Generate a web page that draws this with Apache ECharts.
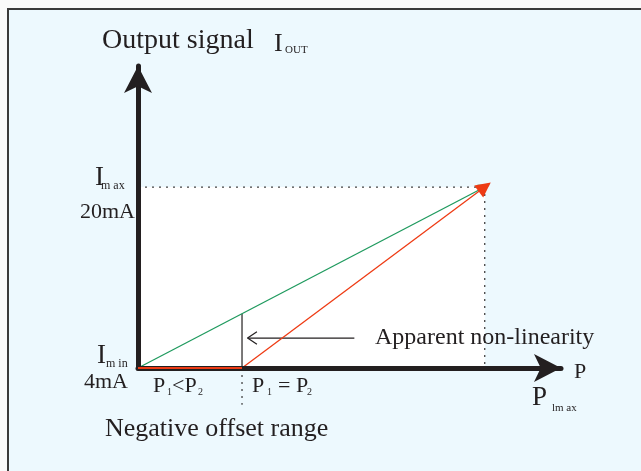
<!DOCTYPE html>
<html>
<head>
<meta charset="utf-8">
<script src="https://cdn.jsdelivr.net/npm/echarts@6/dist/echarts.min.js"></script>
<style>
    html, body { margin: 0; padding: 0; background: #fafafa; }
    #frame {
        position: absolute; left: 7px; top: 8px; width: 640px; height: 470px;
        background: #edf9fe; border-top: 2px solid #3a3a3a; border-left: 2px solid #3a3a3a;
    }
    #main { position: absolute; left: 0; top: 0; width: 641px; height: 471px; }
</style>
</head>
<body>
<div id="frame"></div>
<div id="main"></div>
<script>
    // pressure P (0 .. Pmax = 100), output signal in mA
    var pZero = 0, pOffset = 30, pMax = 100;
    var iMin = 4, iMax = 20;
    var greenLine = [[pZero, iMin], [pMax, iMax]];
    var redFlat = [[pZero, iMin], [pOffset, iMin]];
    var redSlope = [[pOffset, iMin], [pMax, iMax]];
    var offsetMark = [[pOffset, iMin], [pOffset, 8.8]];
    var offsetDotted = [[pOffset, iMin], [pOffset, 0.75]];
    var maxDottedH = [[pZero, iMax], [pMax, iMax]];
    var maxDottedV = [[pMax, iMax], [pMax, iMin]];
    var noteArrow = [[62.4, 6.65], [31.6, 6.65]];
    var noteHead = [[34.3, 7.2], [31.6, 6.65], [34.3, 6.1]];

    var ink = '#231f20';
    var serif = 'Liberation Serif, Times New Roman, serif';

    var myChart = echarts.init(document.getElementById('main'));

    function seg(data, color, width, type, z) {
        return {
            type: 'line', data: data, symbol: 'none', silent: true, clip: false,
            lineStyle: { color: color, width: width, type: type || 'solid' }, z: z || 3
        };
    }

    function txt(x, y, s, size) {
        return { type: 'text', left: x, top: y, z: 100, style: { text: s, font: size + 'px ' + serif, fill: ink } };
    }

    var option = {
        backgroundColor: 'transparent',
        animation: false,
        grid: { left: 138, right: 80, top: 66, bottom: 103 },
        xAxis: {
            type: 'value', min: 0, max: 122, z: 10,
            splitLine: { show: false }, axisTick: { show: false }, axisLabel: { show: false },
            axisLine: {
                onZero: false,
                lineStyle: { color: ink, width: 5 },
                symbol: ['none', 'arrow'], symbolSize: [21, 27]
            }
        },
        yAxis: {
            type: 'value', min: 4, max: 30.7, z: 10,
            splitLine: { show: false }, axisTick: { show: false }, axisLabel: { show: false },
            axisLine: {
                onZero: false,
                lineStyle: { color: ink, width: 5 },
                symbol: ['none', 'arrow'], symbolSize: [21, 27]
            }
        },
        series: [
            {
                type: 'line', data: [], silent: true, z: 1,
                markArea: {
                    silent: true,
                    itemStyle: { color: '#ffffff' },
                    data: [[{ coord: [pZero, iMin] }, { coord: [pMax, iMax] }]]
                }
            },
            seg(maxDottedH, '#444', 1.3, [2, 5]),
            seg(maxDottedV, '#444', 1.3, [2, 5]),
            seg(offsetDotted, '#444', 1.3, [2, 5]),
            seg(offsetMark, ink, 1.2),
            seg(noteArrow, ink, 1.2),
            seg(noteHead, ink, 1.2),
            {
                type: 'lines', coordinateSystem: 'cartesian2d', silent: true,
                symbol: ['none', 'triangle'], symbolSize: 11,
                lineStyle: { color: '#1f9a5e', width: 1.3, opacity: 1 },
                data: [{ coords: greenLine }], z: 4
            },
            seg(redFlat, '#ee3b14', 2, 'solid', 11),
            {
                type: 'lines', coordinateSystem: 'cartesian2d', silent: true,
                symbol: ['none', 'triangle'], symbolSize: 15,
                lineStyle: { color: '#ee3b14', width: 1.3, opacity: 1 },
                data: [{ coords: redSlope }], z: 5
            }
        ],
        graphic: [
            txt(102, 27, 'Output signal', 28),
            txt(274, 31, 'I', 26),
            txt(285, 45, 'OUT', 11),
            txt(95, 164, 'I', 27),
            txt(101, 180, 'm ax', 12),
            txt(80, 201, '20mA', 22),
            txt(97, 342, 'I', 27),
            txt(106, 358, 'm in', 12),
            txt(84, 371, '4mA', 22),
            txt(153, 375, 'P', 22),
            txt(167, 387, '1', 10),
            txt(172, 375, '<P', 22),
            txt(198, 387, '2', 10),
            txt(252, 375, 'P', 22),
            txt(267, 387, '1', 10),
            txt(278, 375, '= P', 22),
            txt(307, 387, '2', 10),
            txt(375, 326, 'Apparent non-linearity', 24),
            txt(574, 361, 'P', 22),
            txt(532, 384, 'P', 27),
            txt(552, 403, 'lm ax', 11),
            txt(105, 416, 'Negative offset range', 26)
        ]
    };
    myChart.setOption(option);
</script>
</body>
</html>
